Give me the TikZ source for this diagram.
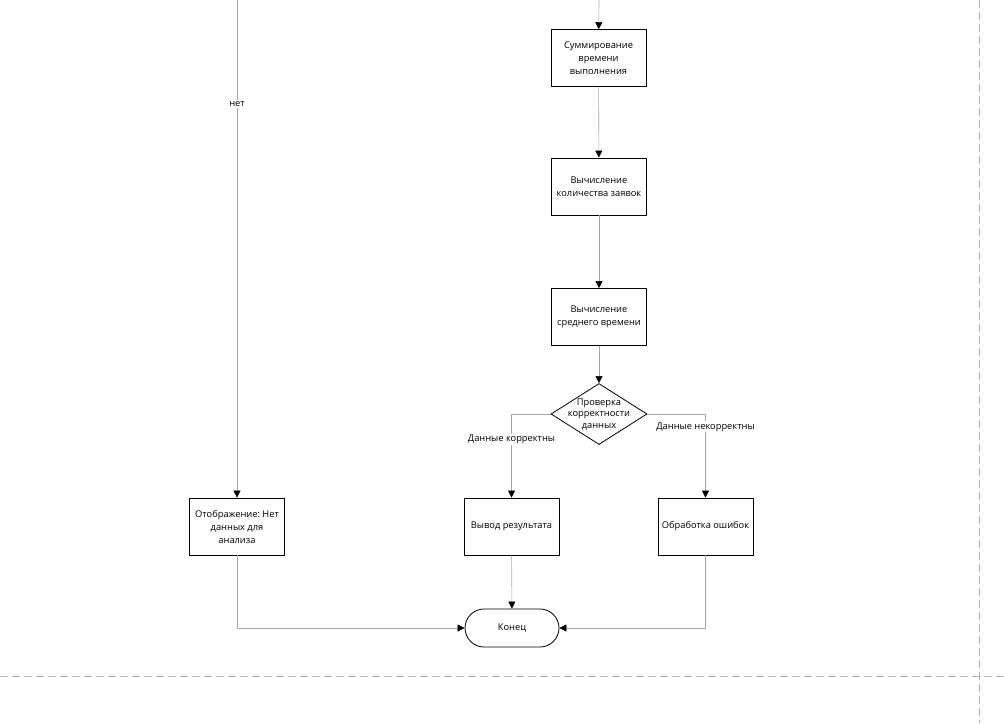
\documentclass[tikz,border=0pt]{standalone}
\usepackage{fontspec}
\setmainfont{Open Sans}
\frenchspacing
\usetikzlibrary{arrows.meta,shapes.geometric}

\begin{document}
\begin{tikzpicture}[x=1pt,y=-1pt,
    every node/.style={font=\fontsize{9.3}{13}\selectfont},
    block/.style={draw, line width=0.8pt, minimum width=95pt, minimum height=57pt,
        inner sep=2pt, align=center},
    decision/.style={draw, diamond, line width=0.8pt, minimum width=96pt,
        minimum height=61pt, inner sep=0pt},
    terminal/.style={draw, rounded corners=19pt, line width=0.8pt,
        minimum width=94pt, minimum height=38pt},
    flow/.style={draw=black!35, line width=0.6pt,
        -{Triangle[color=black,width=7pt,length=7pt]}},
    edgelabel/.style={fill=white, inner sep=1pt},
    pageline/.style={draw=black!30, line width=1pt, dash pattern=on 8pt off 4pt}]

    \useasboundingbox (0,0) rectangle (1004,723);

    % Page borders
    \draw[pageline] (0,676) -- (1004,676);
    \draw[pageline] (979,0) -- (979,723);

    % Entry points
    \coordinate (inmain) at (599,0);
    \coordinate (inno) at (237,0);

    % Blocks
    \node[block] (sum) at (598.5,58) {Суммирование\\времени\\выполнения};
    \node[block] (count) at (599,186.5) {Вычисление\\количества заявок};
    \node[block] (avg) at (599,317) {Вычисление\\среднего времени};
    \node[decision, label={center:{\begin{tabular}{@{}c@{}}Проверка\\[-1.5pt]корректности\\[-1.5pt]данных\end{tabular}}}] (check) at (599,414) {};
    \node[block] (nodata) at (237,526.5) {Отображение: Нет\\данных для\\анализа};
    \node[block] (result) at (511.5,526.5) {Вывод результата};
    \node[block] (errors) at (705.5,526.5) {Обработка ошибок};
    \node[terminal] (end) at (512,628) {Конец};

    % Connectors
    \draw[flow] (inmain) -- (sum);
    \draw[flow] (sum) -- (count);
    \draw[flow] (count) -- (avg);
    \draw[flow] (avg) -- (check);
    \draw[flow] (inno) -- node[edgelabel, pos=0.209] {нет} (nodata);
    \draw[flow] (check.west) -| node[edgelabel, pos=0.65] {Данные корректны} (result);
    \draw[flow] (check.east) -| node[edgelabel, pos=0.577] {Данные некорректны} (errors);
    \draw[flow] (result) -- (end);
    \draw[flow] (nodata) |- (end);
    \draw[flow] (errors) |- (end);

\end{tikzpicture}
\end{document}
